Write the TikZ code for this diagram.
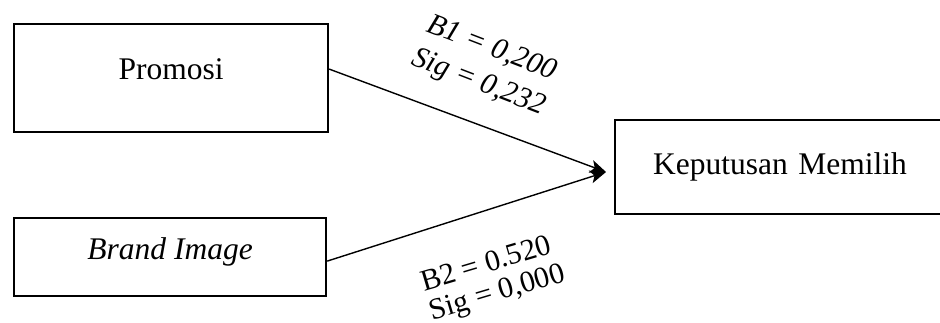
\documentclass[tikz,border=0pt]{standalone}
\usepackage{fontspec}
\setmainfont{Liberation Serif}
\usetikzlibrary{arrows.meta,calc}
\begin{document}
\begin{tikzpicture}[x=1pt,y=-1pt,
  varbox/.style={draw, line width=2.2pt, inner sep=0pt, font=\fontsize{31.5}{36}\selectfont},
  conn/.style={line width=1.4pt, -{Stealth[length=16pt,width=13pt,inset=4pt]}},
  coef/.style={inner sep=0pt}]
\useasboundingbox (0,0) rectangle (940,322);
\clip (0,0) rectangle (940,322);
\node[varbox, anchor=north west, minimum width=314pt, text height=55pt, text depth=53pt] (P) at (13,23) {Promosi};
\node[varbox, anchor=north west, minimum width=312pt, text height=41pt, text depth=37pt] (B) at (13,217) {\itshape Brand Image};
\node[varbox, anchor=north west, inner xsep=38pt, text width=300pt, align=left, text height=54pt, text depth=40pt] (K) at (614,119) {Keputusan Memilih};
\coordinate (tip) at (606,172);
\draw[conn] ([yshift=9pt]P.east) -- (tip);
\draw[conn] ([yshift=-4pt]B.east) -- (tip);
\node[coef, rotate=-21, align=center, font=\fontsize{30}{36.5}\selectfont\itshape] (c1) at (485.1,66.3) {B1 = 0,200\\Sig = 0,232};
\node[coef, rotate=16.5, align=left, font=\fontsize{30}{30.5}\selectfont] (c2) at (493.4,279.5) {B2 = 0.520\\Sig = 0,000};
\end{tikzpicture}
\end{document}
